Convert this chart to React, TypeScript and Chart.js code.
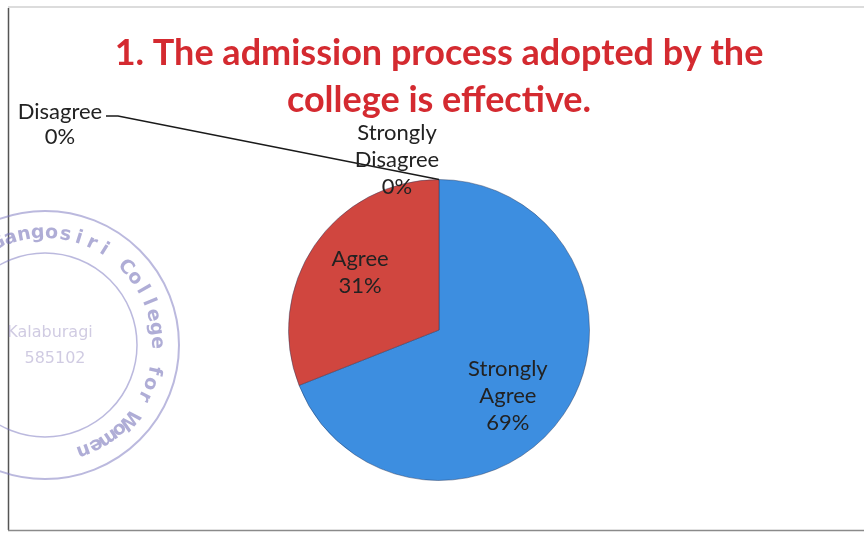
import React, { useEffect, useRef } from "react";
import { Chart, registerables } from "chart.js";

Chart.register(...registerables);

const titleLines = ["1. The admission process adopted by the", "college is effective."];
const categories = ["Strongly Agree", "Agree", "Disagree", "Strongly Disagree"];
const percentages = [69, 31, 0, 0];
const sliceColors = ["#3d8ee0", "#d0463f", "#9bbb59", "#8064a2"];
const labelLines = [
  ["Strongly", "Agree", "69%"],
  ["Agree", "31%"],
  ["Disagree", "0%"],
  ["Strongly", "Disagree", "0%"],
];
const stampRing = "Mahatma Gangosiri College for Women";
const stampInner = ["Kalaburagi", "585102"];

const LABEL_FONT = "22px Lato, 'Open Sans', sans-serif";
const LINE_H = 27;

const framePlugin = {
  id: "frame",
  beforeDraw(chart: any) {
    const ctx = chart.ctx as CanvasRenderingContext2D;
    ctx.save();
    ctx.fillStyle = "#ffffff";
    ctx.fillRect(0, 0, chart.width, chart.height);
    // scan frame
    ctx.strokeStyle = "#d0d0d0";
    ctx.lineWidth = 1.5;
    ctx.beginPath();
    ctx.moveTo(8, 7);
    ctx.lineTo(chart.width, 7);
    ctx.stroke();
    ctx.strokeStyle = "#555555";
    ctx.lineWidth = 1.5;
    ctx.beginPath();
    ctx.moveTo(8.5, 8);
    ctx.lineTo(8.5, 530);
    ctx.stroke();
    ctx.strokeStyle = "#8a8a8a";
    ctx.beginPath();
    ctx.moveTo(8, 530.5);
    ctx.lineTo(chart.width, 530.5);
    ctx.stroke();
    // faint stamp
    const cx = 45, cy = 345;
    ctx.strokeStyle = "rgba(120,115,190,0.5)";
    ctx.lineWidth = 2;
    ctx.beginPath();
    ctx.arc(cx, cy, 134, 0, Math.PI * 2);
    ctx.stroke();
    ctx.lineWidth = 1.5;
    ctx.beginPath();
    ctx.arc(cx, cy, 92, 0, Math.PI * 2);
    ctx.stroke();
    ctx.fillStyle = "rgba(110,105,180,0.55)";
    ctx.font = "bold 19px 'DejaVu Sans', sans-serif";
    ctx.textAlign = "center";
    ctx.textBaseline = "middle";
    const start = (-172 * Math.PI) / 180;
    const end = (70 * Math.PI) / 180;
    const n = stampRing.length;
    for (let i = 0; i < n; i++) {
      const a = start + ((end - start) * i) / (n - 1);
      ctx.save();
      ctx.translate(cx + 112 * Math.cos(a), cy + 112 * Math.sin(a));
      ctx.rotate(a + Math.PI / 2);
      ctx.fillText(stampRing[i], 0, 0);
      ctx.restore();
    }
    ctx.fillStyle = "rgba(150,140,190,0.45)";
    ctx.font = "16px 'DejaVu Sans', sans-serif";
    ctx.fillText(stampInner[0], cx + 5, cy - 12);
    ctx.fillText(stampInner[1], cx + 10, cy + 14);
    ctx.restore();
  },
};

const labelPlugin = {
  id: "pieLabels",
  afterDatasetsDraw(chart: any) {
    const ctx = chart.ctx as CanvasRenderingContext2D;
    const meta = chart.getDatasetMeta(0);
    ctx.save();
    ctx.font = LABEL_FONT;
    ctx.fillStyle = "#222222";
    ctx.textAlign = "center";
    ctx.textBaseline = "middle";
    meta.data.forEach((arc: any, i: number) => {
      const p = arc.getProps(["x", "y", "startAngle", "endAngle", "outerRadius"], true);
      const lines = labelLines[i];
      if (percentages[i] > 0) {
        const mid = (p.startAngle + p.endAngle) / 2;
        const r = p.outerRadius * 0.65;
        const nudge = i === 0 ? { x: -12, y: 11 } : { x: 2, y: -3 };
        const lx = p.x + r * Math.cos(mid) + nudge.x;
        const ly = p.y + r * Math.sin(mid) + nudge.y;
        lines.forEach((t, k) => {
          ctx.fillText(t, lx, ly + (k - (lines.length - 1) / 2) * LINE_H);
        });
      } else {
        const ax = p.x + p.outerRadius * Math.cos(p.startAngle);
        const ay = p.y + p.outerRadius * Math.sin(p.startAngle);
        if (categories[i] === "Disagree") {
          const lx = 60, ly = 112;
          lines.forEach((t, k) => ctx.fillText(t, lx, ly + k * 25));
          ctx.strokeStyle = "#1a1a1a";
          ctx.lineWidth = 1.3;
          ctx.beginPath();
          ctx.moveTo(106, ly + 4);
          ctx.lineTo(118, ly + 4);
          ctx.lineTo(ax, ay);
          ctx.stroke();
        } else {
          const lx = ax - 42, ly = ay - 20;
          lines.forEach((t, k) => ctx.fillText(t, lx, ly + (k - 1) * LINE_H));
        }
      }
    });
    ctx.restore();
  },
};

export default function App() {
  const ref = useRef<HTMLCanvasElement | null>(null);
  useEffect(() => {
    if (!ref.current) return;
    const chart = new Chart(ref.current, {
      type: "pie",
      data: {
        labels: categories,
        datasets: [
          {
            data: percentages,
            backgroundColor: sliceColors,
            borderColor: "rgba(40,55,90,0.45)",
            borderWidth: [1, 1, 0, 0],
          },
        ],
      },
      options: {
        responsive: true,
        maintainAspectRatio: false,
        animation: false,
        layout: { padding: { left: 14, right: 0, top: 0, bottom: 53 } },
        plugins: {
          legend: { display: false },
          tooltip: { enabled: false },
          title: {
            display: true,
            text: titleLines,
            color: "#d42a30",
            font: { family: "Lato, 'Open Sans', sans-serif", size: 36, weight: "bold", lineHeight: 1.3 },
            padding: { top: 30, bottom: 55.4 },
          },
        },
      },
      plugins: [framePlugin, labelPlugin],
    });
    return () => chart.destroy();
  }, []);
  return (
    <div style={{ position: "absolute", left: 0, top: 0, width: 864, height: 534 }}>
      <canvas ref={ref} />
    </div>
  );
}
